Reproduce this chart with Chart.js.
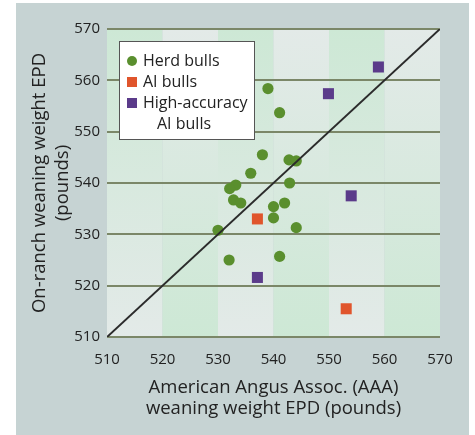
<!DOCTYPE html>
<html>
<head>
<meta charset="utf-8">
<script src="https://cdn.jsdelivr.net/npm/chart.js@4.4.0/dist/chart.umd.min.js"></script>
<style>
body { margin: 0; background: #fff; }
</style>
</head>
<body>
<canvas id="chart" width="475" height="435"></canvas>
<script>
// herd bulls (AAA EPD vs on-ranch EPD)
var herdX = [539, 541.1, 538, 542.8, 544.1, 535.9, 542.9, 533.2, 532.1, 532.8, 534.1, 542, 540, 540, 544.1, 530, 532, 541.1];
var herdY = [558.4, 553.7, 545.5, 544.5, 544.3, 541.9, 540, 539.6, 538.9, 536.7, 536.1, 536.1, 535.4, 533.2, 531.3, 530.8, 525, 525.7];
// AI bulls
var aiX = [537.1, 553.1];
var aiY = [533, 515.5];
// high-accuracy AI bulls
var haX = [558.9, 549.9, 554, 537.1];
var haY = [562.6, 557.4, 537.5, 521.6];
// 1:1 line
var lineX = [510, 570];
var lineY = [510, 570];
var axisMin = 510, axisMax = 570, axisStep = 10;

var legendItems = [
    { label: ['Herd bulls'], color: '#5a8f2e', shape: 'circle' },
    { label: ['AI bulls'], color: '#e0552c', shape: 'rect' },
    { label: ['High-accuracy', 'AI bulls'], color: '#5b3b8a', shape: 'rect' }
];

function toPoints(xs, ys) {
    var pts = [];
    for (var i = 0; i < xs.length; i++) {
        pts.push({ x: xs[i], y: ys[i] });
    }
    return pts;
}

var FONT = "'Open Sans', sans-serif";
var GREEN_BAND = '#cde8d5';
var GRAY_BAND = '#e3eae8';

var backgroundPlugin = {
    id: 'panelBg',
    beforeDraw: function (chart) {
        var ctx = chart.ctx;
        var area = chart.chartArea;
        var xs = chart.scales.x;
        ctx.save();
        ctx.fillStyle = '#ffffff';
        ctx.fillRect(0, 0, chart.width, chart.height);
        ctx.fillStyle = '#c6d3d3';
        ctx.fillRect(16, 3, chart.width - 22, chart.height - 3);
        // vertical bands, alternating gradient direction
        var n = 0;
        for (var v = axisMin; v < axisMax; v += axisStep) {
            var x0 = xs.getPixelForValue(v);
            var x1 = xs.getPixelForValue(v + axisStep);
            var g = ctx.createLinearGradient(0, area.top, 0, area.bottom);
            if (n % 2 == 0) {
                g.addColorStop(0, GREEN_BAND);
                g.addColorStop(1, GRAY_BAND);
            } else {
                g.addColorStop(0, GRAY_BAND);
                g.addColorStop(1, GREEN_BAND);
            }
            ctx.fillStyle = g;
            ctx.fillRect(x0, area.top, x1 - x0, area.bottom - area.top);
            n++;
        }
        ctx.restore();
    }
};

var legendPlugin = {
    id: 'boxLegend',
    afterDraw: function (chart) {
        var ctx = chart.ctx;
        var area = chart.chartArea;
        var bx = area.left + 12, by = area.top + 12, bw = 135, bh = 98;
        ctx.save();
        ctx.fillStyle = '#ffffff';
        ctx.fillRect(bx, by, bw, bh);
        ctx.strokeStyle = '#555555';
        ctx.lineWidth = 1;
        ctx.strokeRect(bx + 0.5, by + 0.5, bw, bh);
        ctx.font = '16px ' + FONT;
        ctx.textBaseline = 'middle';
        ctx.textAlign = 'left';
        var y = by + 20;
        legendItems.forEach(function (item) {
            var mx = bx + 13;
            ctx.fillStyle = item.color;
            if (item.shape == 'circle') {
                ctx.beginPath();
                ctx.arc(mx, y, 5, 0, Math.PI * 2);
                ctx.fill();
            } else {
                ctx.fillRect(mx - 5, y - 5, 10, 10);
            }
            ctx.fillStyle = '#222222';
            for (var k = 0; k < item.label.length; k++) {
                ctx.fillText(item.label[k], bx + (k == 0 ? 24 : 38), y);
                y += 21;
            }
        });
        ctx.restore();
    }
};

var myChart = document.getElementById('chart').getContext('2d');
var scatterChart = new Chart(myChart, {
    type: 'scatter',
    data: {
        datasets: [{
            label: '1:1',
            data: toPoints(lineX, lineY),
            showLine: true,
            borderColor: '#2b2b2b',
            borderWidth: 2,
            pointRadius: 0,
            order: 0
        }, {
            label: 'Herd bulls',
            data: toPoints(herdX, herdY),
            backgroundColor: '#5a8f2e',
            borderWidth: 0,
            pointStyle: 'circle',
            pointRadius: 5.6,
            order: 1
        }, {
            label: 'AI bulls',
            data: toPoints(aiX, aiY),
            backgroundColor: '#e0552c',
            borderWidth: 0,
            pointStyle: 'rect',
            pointRadius: 7.8,
            order: 1
        }, {
            label: 'High-accuracy AI bulls',
            data: toPoints(haX, haY),
            backgroundColor: '#5b3b8a',
            borderWidth: 0,
            pointStyle: 'rect',
            pointRadius: 7.8,
            order: 1
        }]
    },
    options: {
        responsive: false,
        animation: false,
        devicePixelRatio: 1,
        layout: {
            padding: { left: 0, right: 35, top: 29, bottom: 0 }
        },
        plugins: {
            legend: { display: false },
            tooltip: { enabled: false }
        },
        scales: {
            x: {
                type: 'linear',
                min: axisMin,
                max: axisMax,
                grid: { display: false, drawTicks: false },
                border: { display: false },
                ticks: {
                    stepSize: axisStep,
                    padding: 14,
                    color: '#222222',
                    font: { family: FONT, size: 15 }
                },
                title: {
                    display: true,
                    text: ['American Angus Assoc. (AAA)', 'weaning weight EPD (pounds)'],
                    color: '#222222',
                    font: { family: FONT, size: 18.5, lineHeight: 1.12 },
                    padding: { top: 0, bottom: 16 }
                },
                afterFit: function (scale) { scale.height = 98; }
            },
            y: {
                type: 'linear',
                min: axisMin,
                max: axisMax,
                grid: { color: '#7b8768', lineWidth: 2, drawTicks: false },
                border: { display: false },
                ticks: {
                    stepSize: axisStep,
                    padding: 7,
                    color: '#222222',
                    font: { family: FONT, size: 15 }
                },
                title: {
                    display: true,
                    text: ['On-ranch weaning weight EPD', '(pounds)'],
                    color: '#222222',
                    font: { family: FONT, size: 18.5, lineHeight: 1.24 },
                    padding: { top: 28.5, bottom: 0 }
                },
                afterFit: function (scale) { scale.width = 107; }
            }
        }
    },
    plugins: [backgroundPlugin, legendPlugin]
});
</script>
</body>
</html>
